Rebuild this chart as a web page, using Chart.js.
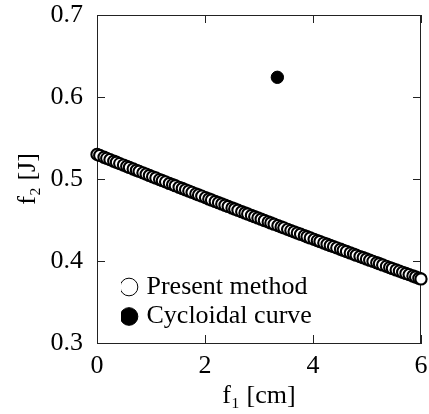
<!DOCTYPE html>
<html><head><meta charset="utf-8">
<script src="https://cdn.jsdelivr.net/npm/chart.js@4/dist/chart.umd.min.js"></script>
<style>html,body{margin:0;padding:0;background:#fff}#wrap{width:429px;height:414px}</style>
</head><body><div id="wrap"><canvas id="c" width="429" height="414"></canvas></div>
<script>
const presentX = [0, 0.05, 0.13, 0.18, 0.24, 0.31, 0.36, 0.42, 0.49, 0.55, 0.60, 0.67, 0.73, 0.78, 0.85, 0.91, 0.97, 1.03, 1.09, 1.16, 1.21, 1.27, 1.34, 1.40, 1.45, 1.52, 1.58, 1.64, 1.70, 1.76, 1.83, 1.88, 1.94, 2.01, 2.07, 2.12, 2.19, 2.25, 2.31, 2.37, 2.43, 2.50, 2.55, 2.61, 2.68, 2.74, 2.79, 2.86, 2.92, 2.98, 3.04, 3.10, 3.17, 3.22, 3.28, 3.35, 3.41, 3.46, 3.53, 3.59, 3.65, 3.71, 3.77, 3.84, 3.89, 3.95, 4.02, 4.08, 4.13, 4.20, 4.26, 4.32, 4.38, 4.44, 4.51, 4.56, 4.62, 4.69, 4.75, 4.80, 4.87, 4.93, 4.99, 5.05, 5.11, 5.18, 5.23, 5.29, 5.36, 5.42, 5.47, 5.54, 5.60, 5.66, 5.72, 5.78, 5.85, 5.90, 5.96, 6.00];
const presentY = [0.5300, 0.5287, 0.5265, 0.5252, 0.5236, 0.5217, 0.5204, 0.5188, 0.5170, 0.5154, 0.5141, 0.5122, 0.5106, 0.5093, 0.5075, 0.5059, 0.5043, 0.5027, 0.5012, 0.4993, 0.4980, 0.4965, 0.4946, 0.4931, 0.4918, 0.4899, 0.4884, 0.4868, 0.4853, 0.4837, 0.4819, 0.4806, 0.4791, 0.4773, 0.4757, 0.4744, 0.4726, 0.4711, 0.4696, 0.4680, 0.4665, 0.4647, 0.4634, 0.4619, 0.4601, 0.4586, 0.4573, 0.4555, 0.4540, 0.4525, 0.4510, 0.4494, 0.4477, 0.4464, 0.4449, 0.4431, 0.4416, 0.4404, 0.4386, 0.4371, 0.4356, 0.4341, 0.4326, 0.4309, 0.4296, 0.4281, 0.4264, 0.4249, 0.4237, 0.4219, 0.4204, 0.4189, 0.4175, 0.4160, 0.4143, 0.4130, 0.4116, 0.4098, 0.4084, 0.4071, 0.4054, 0.4040, 0.4025, 0.4010, 0.3996, 0.3979, 0.3967, 0.3952, 0.3935, 0.3920, 0.3908, 0.3891, 0.3877, 0.3862, 0.3848, 0.3834, 0.3817, 0.3805, 0.3790, 0.3781];
const cycloidX = [3.34];
const cycloidY = [0.624];
const seriesNames = ['Present method', 'Cycloidal curve'];
const xTicks = [0, 2, 4, 6];
const yTicks = [0.3, 0.4, 0.5, 0.6, 0.7];
const xTitle = 'f\u2081 [cm]';
const yTitle = 'f\u2082 [J]';

const FONT = "'Liberation Serif', 'Times New Roman', serif";
const AXIS = '#222';

const frame = {
  id: 'frame',
  beforeDatasetsDraw(chart) {
    const {ctx, chartArea: {left, right, top, bottom}, scales: {x, y}} = chart;
    ctx.save();
    ctx.strokeStyle = AXIS; ctx.lineWidth = 1;
    ctx.beginPath();
    ctx.moveTo(left, top + 0.5); ctx.lineTo(right, top + 0.5);
    ctx.moveTo(right - 0.5, top); ctx.lineTo(right - 0.5, bottom);
    x.ticks.forEach(t => {
      const px = Math.round(x.getPixelForValue(t.value)) + 0.5;
      ctx.moveTo(px, bottom); ctx.lineTo(px, bottom - 8);
      ctx.moveTo(px, top); ctx.lineTo(px, top + 8);
    });
    y.ticks.forEach(t => {
      const py = Math.round(y.getPixelForValue(t.value)) + 0.5;
      ctx.moveTo(left, py); ctx.lineTo(left + 8, py);
      ctx.moveTo(right, py); ctx.lineTo(right - 8, py);
    });
    ctx.stroke();
    ctx.restore();
  }
};
const legendPlace = {
  id: 'legendPlace',
  afterLayout(chart) {
    const lg = chart.legend; if (!lg) return;
    const ca = chart.chartArea;
    lg.left = 121; lg.top = 270.5; lg.right = ca.right; lg.bottom = ca.bottom;
    lg.width = lg.right - lg.left; lg.height = lg.bottom - lg.top;
  }
};
const noPad = s => { s.paddingLeft = 0; s.paddingRight = 0; s.paddingTop = 0; s.paddingBottom = 0; };

new Chart(document.getElementById('c'), {
  type: 'scatter',
  data: {
    datasets: [
      {label: seriesNames[0], data: presentX.map((v, i) => ({x: v, y: presentY[i]})),
       pointStyle: 'circle', pointRadius: 5.6, backgroundColor: '#fff', borderColor: '#000', borderWidth: 2.1, clip: false},
      {label: seriesNames[1], data: cycloidX.map((v, i) => ({x: v, y: cycloidY[i]})),
       pointStyle: 'circle', pointRadius: 6.2, backgroundColor: '#000', borderColor: '#000', borderWidth: 1, clip: false}
    ]
  },
  options: {
    responsive: false, animation: false, devicePixelRatio: 1,
    layout: {padding: {left: 10, right: 8, top: 15, bottom: 2}},
    plugins: {
      tooltip: {enabled: false},
      legend: {
        position: 'chartArea', align: 'start',
        labels: {usePointStyle: true, boxWidth: 9, boxHeight: 12.5, padding: 3.5, color: '#000',
                 font: {family: FONT, size: 26},
                 generateLabels: chart => chart.data.datasets.map((d, i) => ({
                   text: d.label, pointStyle: 'circle', fillStyle: d.backgroundColor,
                   strokeStyle: '#000', lineWidth: 1, datasetIndex: i, hidden: false
                 }))}
      }
    },
    scales: {
      x: {
        type: 'linear', min: 0, max: 6,
        afterBuildTicks: s => { s.ticks = xTicks.map(v => ({value: v})); },
        afterFit: s => { s.height = 69; noPad(s); },
        grid: {display: false, drawTicks: false},
        border: {display: true, color: AXIS, width: 1},
        ticks: {color: '#000', padding: 10, maxRotation: 0, font: {family: FONT, size: 26, lineHeight: 1},
                callback: v => String(v)},
        title: {display: true, text: xTitle, color: '#000', padding: {top: 0, bottom: 0}, font: {family: FONT, size: 26}}
      },
      y: {
        type: 'linear', min: 0.3, max: 0.7,
        afterBuildTicks: s => { s.ticks = yTicks.map(v => ({value: v})); },
        afterFit: s => { s.width = 87; noPad(s); },
        grid: {display: false, drawTicks: false},
        border: {display: true, color: AXIS, width: 1},
        ticks: {color: '#000', padding: 14, font: {family: FONT, size: 26, lineHeight: 1},
                callback: v => Number(v).toFixed(1)},
        title: {display: true, text: yTitle, color: '#000', padding: {top: 3, bottom: 0}, font: {family: FONT, size: 26}}
      }
    }
  },
  plugins: [frame, legendPlace]
});
</script></body></html>
